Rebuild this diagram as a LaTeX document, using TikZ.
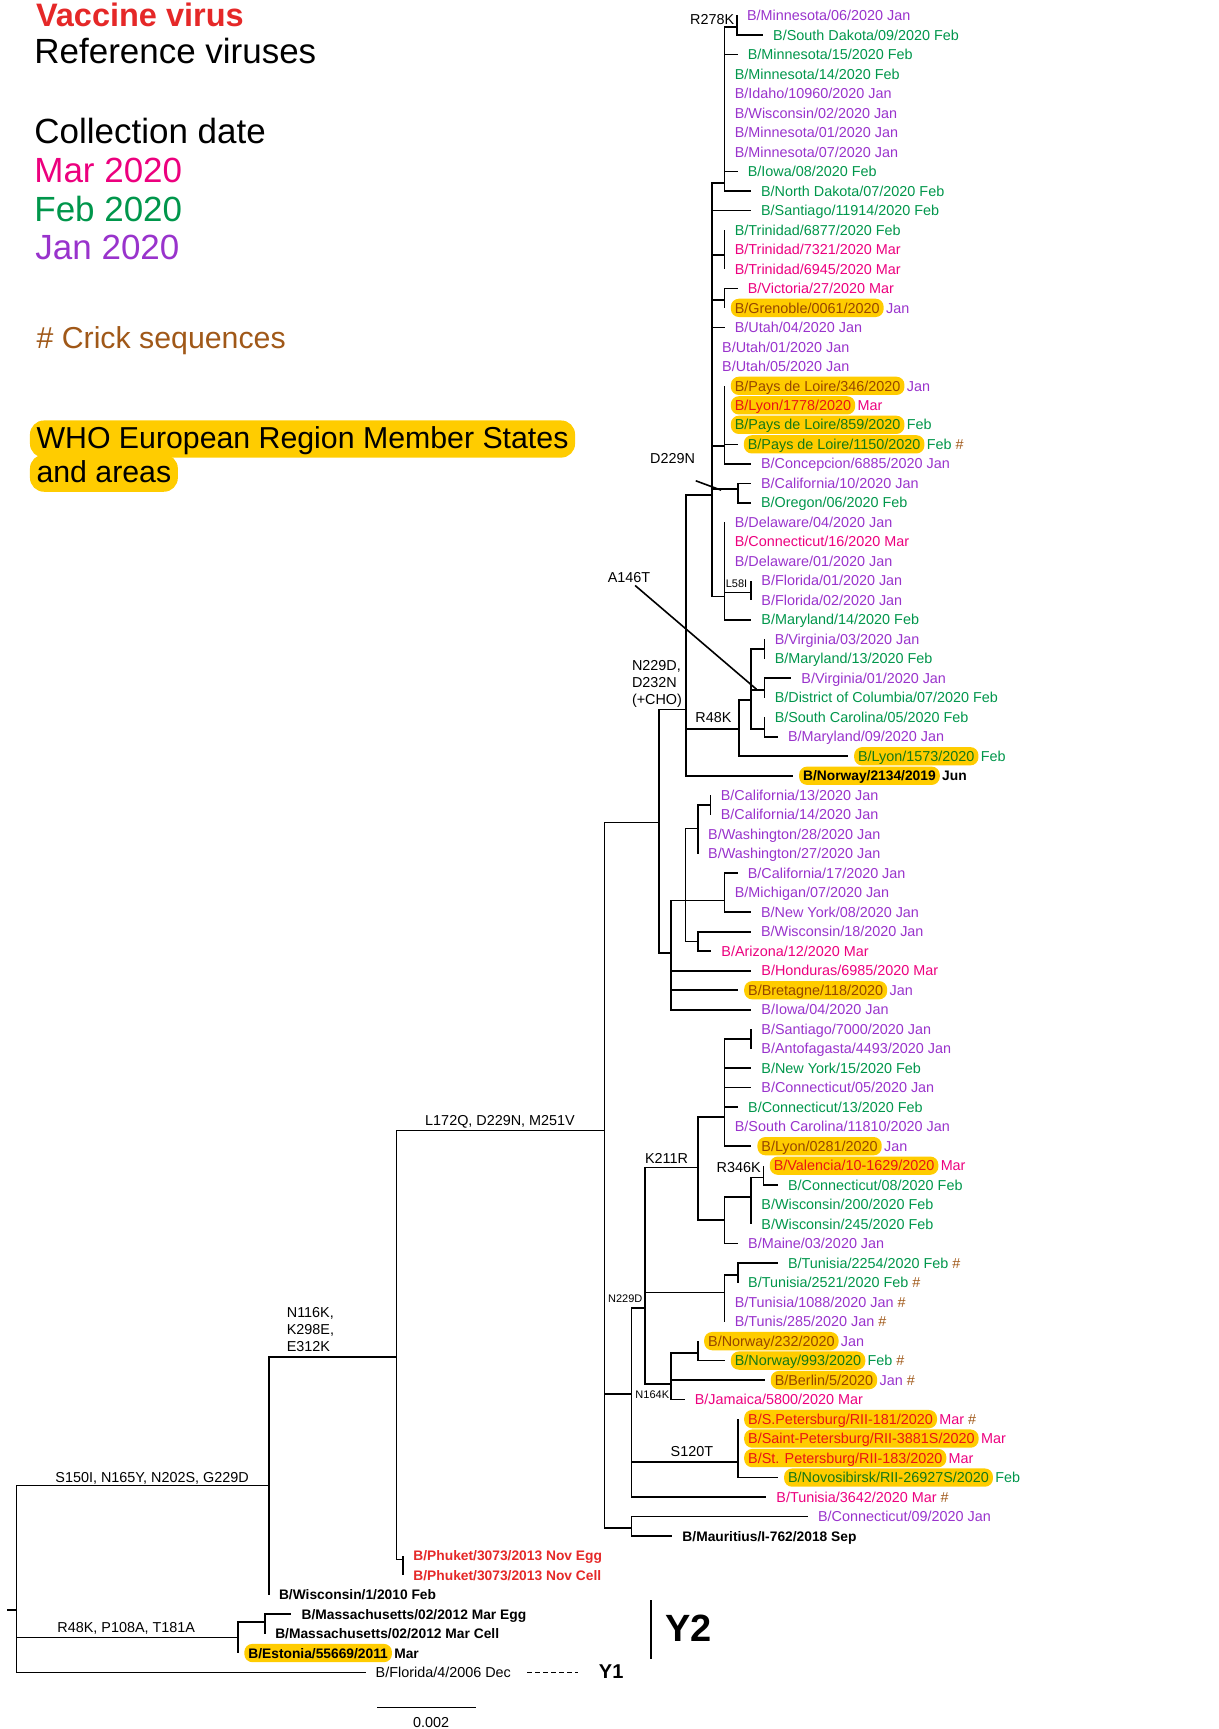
\documentclass[tikz,border=0pt]{standalone}
\usepackage{fontspec}
\setmainfont{Liberation Sans}
\usepackage{xcolor}
\usetikzlibrary{positioning}

\definecolor{jancol}{RGB}{153,51,204}
\definecolor{febcol}{RGB}{0,150,75}
\definecolor{marcol}{RGB}{236,0,126}
\definecolor{janhl}{RGB}{150,70,0}
\definecolor{febhl}{RGB}{20,120,20}
\definecolor{marhl}{RGB}{232,20,20}
\definecolor{vacred}{RGB}{229,40,40}
\definecolor{crick}{RGB}{160,88,24}
\definecolor{hlyellow}{RGB}{255,204,0}

\newcommand{\leaffont}{\fontsize{14.4}{17}\selectfont}
\newcommand{\reffont}{\fontsize{13.8}{17}\selectfont\bfseries}
\newcommand{\smallfont}{\fontsize{11}{13}\selectfont}
\newcommand{\bigfont}{\fontsize{35}{40}\selectfont}
\newcommand{\midfont}{\fontsize{30.3}{34}\selectfont}
\newcommand{\crk}{\textcolor{crick}{\#}}

\newcommand{\lf}[5]{%
  \coordinate (#1) at (#2,#3);
  \node[tipl,#4] (#1l) at (#1) {#5};}
\newcommand{\hlf}[6]{%
  \coordinate (#1) at (#2,#3);
  \node[hlname,#4 hl] (#1l) at (#1) {#5};
  \node[leaf,#4,right=2pt of #1l] (#1m) {#6};}
\newcommand{\branches}[2]{\foreach \kid in {#2}{\draw[br] (#1) |- (\kid);}}

\begin{document}
\begin{tikzpicture}[
    x=1.1032pt, y=-19.505pt,
    br/.style={line width=1.6pt},
    leaf/.style={inner sep=0pt, text height=10.3pt, text depth=0pt, font=\leaffont, anchor=west},
    tipl/.style={leaf, xshift=10pt},
    hlname/.style={leaf, xshift=6pt, inner xsep=4pt, inner ysep=4pt, fill=hlyellow, rounded corners=8pt},
    jan/.style={text=jancol}, feb/.style={text=febcol}, mar/.style={text=marcol},
    jan hl/.style={text=janhl}, feb hl/.style={text=febhl}, mar hl/.style={text=marhl},
    ref/.style={text=black, font=\reffont}, ref hl/.style={ref},
    vac/.style={text=vacred, font=\reffont},
    oldref/.style={text=black},
    mut/.style={inner sep=0pt, font=\leaffont, text height=10.3pt, text depth=0pt},
    mutlines/.style={inner sep=0pt, font=\leaffont, align=left, anchor=north west},
    small/.style={inner sep=0pt, font=\smallfont, text height=7.9pt, text depth=0pt},
    legend/.style={anchor=base west, inner sep=0pt},
    who/.style={anchor=base west, font=\midfont, fill=hlyellow, rounded corners=14pt,
      inner xsep=6.6pt, inner ysep=7.6pt, text height=20pt, text depth=2pt}
]
\useasboundingbox (0,0.208) rectangle (1105,88.897);

\node[legend, font=\bfseries\fontsize{32.5}{36}\selectfont, text=vacred] (lVac) at (32.5,1.58) {Vaccine virus};
\node[legend, font=\bigfont] (lRef) at (31,3.45) {Reference viruses};
\node[legend, font=\bigfont] (lCol) at (31,7.59) {Collection date};
\node[legend, font=\bigfont, text=marcol] (lMar) at (31,9.57) {Mar 2020};
\node[legend, font=\bigfont, text=febcol] (lFeb) at (31,11.57) {Feb 2020};
\node[legend, font=\bigfont, text=jancol] (lJan) at (32,13.54) {Jan 2020};
\node[legend, font=\midfont, text=crick] (lCrick) at (33,18.06) {\# Crick sequences};
\node[who] (lWho) at (27,23.19) {WHO European Region Member States};
\node[who] (lAreas) at (27,24.94) {and areas};

\coordinate (root) at (15,82.8);
\coordinate (stub) at (6,82.8);
\coordinate (n116) at (243.8,76.4);
\coordinate (n172) at (359.5,69.8);
\coordinate (phk) at (365.7,80.2);
\coordinate (nL) at (548.4,58.2);
\coordinate (nA) at (597.7,42.4);
\coordinate (nCHO) at (622.4,36.6);
\coordinate (n229) at (645.7,25.6);
\coordinate (n657) at (657.2,9.6);
\coordinate (r278) at (668.3,1.58);
\coordinate (trin) at (657.2,13.3);
\coordinate (vict) at (657.2,15.6);
\coordinate (pdl) at (657.2,23.1);
\coordinate (caor) at (669.3,25.3);
\coordinate (dela) at (657.2,30.8);
\coordinate (l58) at (681.3,30.6);
\coordinate (r48) at (670.2,37.6);
\coordinate (a146) at (681.3,36.1);
\coordinate (va03) at (693.4,33.5);
\coordinate (va01) at (693.4,35.6);
\coordinate (sc05) at (693.4,37.6);
\coordinate (nB) at (608.8,49.1);
\coordinate (nC) at (621.8,46.4);
\coordinate (nD) at (633,42.7);
\coordinate (ca13) at (644.5,41.5);
\coordinate (nE) at (657.2,46.4);
\coordinate (nF) at (633,48.5);
\coordinate (nP) at (572.6,71.7);
\coordinate (k211) at (584.7,67.3);
\coordinate (nK) at (633,60.1);
\coordinate (nS) at (657.2,57.5);
\coordinate (sant) at (681.3,53.5);
\coordinate (nR) at (657.2,62.8);
\coordinate (nW) at (681.3,61.6);
\coordinate (r346) at (692.5,60.6);
\coordinate (tun) at (657.2,66.5);
\coordinate (tun2) at (669.3,65.6);
\coordinate (n164) at (608.8,71.2);
\coordinate (nor) at (633,69.6);
\coordinate (s120) at (669.3,75.2);
\coordinate (maur) at (572.6,78.6);
\coordinate (nR48) at (216,84.2);
\coordinate (mass) at (240.4,83.4);

\lf{t1}{668.3}{1}{jan}{B/Minnesota/06/2020 Jan}
\lf{t2}{692}{2}{feb}{B/South Dakota/09/2020 Feb}
\lf{t3}{669}{3}{feb}{B/Minnesota/15/2020 Feb}
\lf{t4}{657.2}{4}{feb}{B/Minnesota/14/2020 Feb}
\lf{t5}{657.2}{5}{jan}{B/Idaho/10960/2020 Jan}
\lf{t6}{657.2}{6}{jan}{B/Wisconsin/02/2020 Jan}
\lf{t7}{657.2}{7}{jan}{B/Minnesota/01/2020 Jan}
\lf{t8}{657.2}{8}{jan}{B/Minnesota/07/2020 Jan}
\lf{t9}{669}{9}{feb}{B/Iowa/08/2020 Feb}
\lf{t10}{681}{10}{feb}{B/North Dakota/07/2020 Feb}
\lf{t11}{681}{11}{feb}{B/Santiago/11914/2020 Feb}
\lf{t12}{657.2}{12}{feb}{B/Trinidad/6877/2020 Feb}
\lf{t13}{657.2}{13}{mar}{B/Trinidad/7321/2020 Mar}
\lf{t14}{657.2}{14}{mar}{B/Trinidad/6945/2020 Mar}
\lf{t15}{669}{15}{mar}{B/Victoria/27/2020 Mar}
\hlf{t16}{657.2}{16}{jan}{B/Grenoble/0061/2020}{Jan}
\lf{t17}{657.2}{17}{jan}{B/Utah/04/2020 Jan}
\lf{t18}{645.7}{18}{jan}{B/Utah/01/2020 Jan}
\lf{t19}{645.7}{19}{jan}{B/Utah/05/2020 Jan}
\hlf{t20}{657.2}{20}{jan}{B/Pays de Loire/346/2020}{Jan}
\hlf{t21}{657.2}{21}{mar}{B/Lyon/1778/2020}{Mar}
\hlf{t22}{657.2}{22}{feb}{B/Pays de Loire/859/2020}{Feb}
\hlf{t23}{669}{23}{feb}{B/Pays de Loire/1150/2020}{Feb \crk}
\lf{t24}{681}{24}{jan}{B/Concepcion/6885/2020 Jan}
\lf{t25}{681}{25}{jan}{B/California/10/2020 Jan}
\lf{t26}{681}{26}{feb}{B/Oregon/06/2020 Feb}
\lf{t27}{657.2}{27}{jan}{B/Delaware/04/2020 Jan}
\lf{t28}{657.2}{28}{mar}{B/Connecticut/16/2020 Mar}
\lf{t29}{657.2}{29}{jan}{B/Delaware/01/2020 Jan}
\lf{t30}{681.3}{30}{jan}{B/Florida/01/2020 Jan}
\lf{t31}{681.3}{31}{jan}{B/Florida/02/2020 Jan}
\lf{t32}{681.3}{32}{feb}{B/Maryland/14/2020 Feb}
\lf{t33}{693.4}{33}{jan}{B/Virginia/03/2020 Jan}
\lf{t34}{693.4}{34}{feb}{B/Maryland/13/2020 Feb}
\lf{t35}{717.6}{35}{jan}{B/Virginia/01/2020 Jan}
\lf{t36}{693.4}{36}{feb}{B/District of Columbia/07/2020 Feb}
\lf{t37}{693.4}{37}{feb}{B/South Carolina/05/2020 Feb}
\lf{t38}{705.5}{38}{jan}{B/Maryland/09/2020 Jan}
\hlf{t39}{769}{39}{feb}{B/Lyon/1573/2020}{Feb}
\hlf{t40}{719.1}{40}{ref}{B/Norway/2134/2019}{Jun}
\lf{t41}{644.5}{41}{jan}{B/California/13/2020 Jan}
\lf{t42}{644.5}{42}{jan}{B/California/14/2020 Jan}
\lf{t43}{633}{43}{jan}{B/Washington/28/2020 Jan}
\lf{t44}{633}{44}{jan}{B/Washington/27/2020 Jan}
\lf{t45}{669}{45}{jan}{B/California/17/2020 Jan}
\lf{t46}{657.2}{46}{jan}{B/Michigan/07/2020 Jan}
\lf{t47}{681}{47}{jan}{B/New York/08/2020 Jan}
\lf{t48}{681}{48}{jan}{B/Wisconsin/18/2020 Jan}
\lf{t49}{645}{49}{mar}{B/Arizona/12/2020 Mar}
\lf{t50}{681.3}{50}{mar}{B/Honduras/6985/2020 Mar}
\hlf{t51}{669.3}{51}{jan}{B/Bretagne/118/2020}{Jan}
\lf{t52}{681.3}{52}{jan}{B/Iowa/04/2020 Jan}
\lf{t53}{681.3}{53}{jan}{B/Santiago/7000/2020 Jan}
\lf{t54}{681.3}{54}{jan}{B/Antofagasta/4493/2020 Jan}
\lf{t55}{681.3}{55}{feb}{B/New York/15/2020 Feb}
\lf{t56}{681.3}{56}{jan}{B/Connecticut/05/2020 Jan}
\lf{t57}{669.3}{57}{feb}{B/Connecticut/13/2020 Feb}
\lf{t58}{657.2}{58}{jan}{B/South Carolina/11810/2020 Jan}
\hlf{t59}{681.3}{59}{jan}{B/Lyon/0281/2020}{Jan}
\hlf{t60}{692.5}{60}{mar}{B/Valencia/10-1629/2020}{Mar}
\lf{t61}{705.5}{61}{feb}{B/Connecticut/08/2020 Feb}
\lf{t62}{681.3}{62}{feb}{B/Wisconsin/200/2020 Feb}
\lf{t63}{681.3}{63}{feb}{B/Wisconsin/245/2020 Feb}
\lf{t64}{669.3}{64}{jan}{B/Maine/03/2020 Jan}
\lf{t65}{705.5}{65}{feb}{B/Tunisia/2254/2020 Feb \crk}
\lf{t66}{669.3}{66}{feb}{B/Tunisia/2521/2020 Feb \crk}
\lf{t67}{657.2}{67}{jan}{B/Tunisia/1088/2020 Jan \crk}
\lf{t68}{657.2}{68}{jan}{B/Tunis/285/2020 Jan \crk}
\hlf{t69}{633}{69}{jan}{B/Norway/232/2020}{Jan}
\hlf{t70}{657.2}{70}{feb}{B/Norway/993/2020}{Feb \crk}
\hlf{t71}{693.4}{71}{jan}{B/Berlin/5/2020}{Jan \crk}
\lf{t72}{620.9}{72}{mar}{B/Jamaica/5800/2020 Mar}
\hlf{t73}{669.3}{73}{mar}{B/S.Petersburg/RII-181/2020}{Mar \crk}
\hlf{t74}{669.3}{74}{mar}{B/Saint-Petersburg/RII-3881S/2020}{Mar}
\hlf{t75}{669.3}{75}{mar}{B/St. Petersburg/RII-183/2020}{Mar}
\hlf{t76}{705.5}{76}{feb}{B/Novosibirsk/RII-26927S/2020}{Feb}
\lf{t77}{694.9}{77}{mar}{B/Tunisia/3642/2020 Mar \crk}
\lf{t78}{732.7}{78}{jan}{B/Connecticut/09/2020 Jan}
\lf{t79}{609.7}{79}{ref}{B/Mauritius/I-762/2018 Sep}
\lf{t80}{365.7}{80}{vac}{B/Phuket/3073/2013 Nov Egg}
\lf{t81}{365.7}{81}{vac}{B/Phuket/3073/2013 Nov Cell}
\lf{t82}{243.8}{82}{ref}{B/Wisconsin/1/2010 Feb}
\lf{t83}{264.3}{83}{ref}{B/Massachusetts/02/2012 Mar Egg}
\lf{t84}{240.4}{84}{ref}{B/Massachusetts/02/2012 Mar Cell}
\hlf{t85}{216}{85}{ref}{B/Estonia/55669/2011}{Mar}
\lf{t86}{331.5}{86}{oldref}{B/Florida/4/2006 Dec}

\branches{root}{stub,n116,nR48,t86}
\branches{n116}{n172,t82}
\branches{n172}{nL,phk}
\branches{phk}{t80,t81}
\branches{nL}{nA,nP,maur}
\branches{nA}{nCHO,nB}
\branches{nCHO}{n229,r48,t40}
\branches{n229}{n657,t11,trin,vict,t17,t18,t19,pdl,caor,dela}
\branches{n657}{r278,t3,t4,t5,t6,t7,t8,t9,t10}
\branches{r278}{t1,t2}
\branches{trin}{t12,t13,t14}
\branches{vict}{t15,t16}
\branches{pdl}{t20,t21,t22,t23,t24}
\branches{caor}{t25,t26}
\branches{dela}{t27,t28,t29,l58,t32}
\branches{l58}{t30,t31}
\branches{r48}{a146,t39}
\branches{a146}{va03,va01,sc05}
\branches{va03}{t33,t34}
\branches{va01}{t35,t36}
\branches{sc05}{t37,t38}
\branches{nB}{nC,t50,t51,t52}
\branches{nC}{nD,nE,nF}
\branches{nD}{ca13,t43,t44}
\branches{ca13}{t41,t42}
\branches{nE}{t45,t46,t47}
\branches{nF}{t48,t49}
\branches{nP}{k211,s120,t77}
\branches{k211}{nK,tun,n164}
\branches{nK}{nS,nR}
\branches{nS}{sant,t55,t56,t57,t58,t59}
\branches{sant}{t53,t54}
\branches{nR}{nW,t64}
\branches{nW}{r346,t62,t63}
\branches{r346}{t60,t61}
\branches{tun}{tun2,t67,t68}
\branches{tun2}{t65,t66}
\branches{n164}{nor,t71,t72}
\branches{nor}{t69,t70}
\branches{s120}{t73,t74,t75,t76}
\branches{maur}{t78,t79}
\branches{nR48}{mass,t85}
\branches{mass}{t83,t84}

\node[mut, anchor=east] (mR278K) at (666,1.2) {R278K};
\node[mut] (mD229N) at (610,23.7) {D229N};
\node[mut] (mA146T) at (570.5,29.8) {A146T};
\node[small] (mL58I) at (668,30.15) {L58I};
\node[mutlines] (mCHO) at (573,34.07) {N229D,\\D232N\\(+CHO)};
\node[mut] (mR48K) at (647,37.0) {R48K};
\node[mut] (mL172Q) at (453.5,57.7) {L172Q, D229N, M251V};
\node[mut] (mK211R) at (604.5,59.6) {K211R};
\node[mut, anchor=east] (mR346K) at (690,60.1) {R346K};
\node[small] (mN229D) at (567,66.8) {N229D};
\node[mutlines] (mN116K) at (260,67.25) {N116K,\\K298E,\\E312K};
\node[small, anchor=east] (mN164K) at (607,71.75) {N164K};
\node[mut] (mS120T) at (627.5,74.65) {S120T};
\node[mut] (mS150I) at (138,76.0) {S150I, N165Y, N202S, G229D};
\node[mut] (mR48P) at (114.5,83.7) {R48K, P108A, T181A};

\coordinate (dA) at (631,24.87);
\coordinate (dB) at (654,25.35);
\draw[br] (dA) -- (dB);
\coordinate (aA) at (576,30.24);
\coordinate (aB) at (686,35.56);
\draw[br] (aA) -- (aB);

\coordinate (y2a) at (590.4,82.3);
\coordinate (y2b) at (590.4,85.3);
\draw[line width=1.3pt] (y2a) -- (y2b);
\node[legend, font=\bfseries\fontsize{38}{40}\selectfont] (yTwo) at (603,84.4) {Y2};
\coordinate (y1a) at (478,86);
\coordinate (y1b) at (524,86);
\draw[line width=1.2pt, dash pattern=on 5pt off 3pt] (y1a) -- (y1b);
\node[legend, font=\bfseries\fontsize{20}{22}\selectfont] (yOne) at (543,86.3) {Y1};

\coordinate (sb1) at (342,87.8);
\coordinate (sb2) at (432,87.8);
\draw[br] (sb1) -- (sb2);
\node[mut] (sbl) at (391,88.55) {0.002};
\end{tikzpicture}
\end{document}
